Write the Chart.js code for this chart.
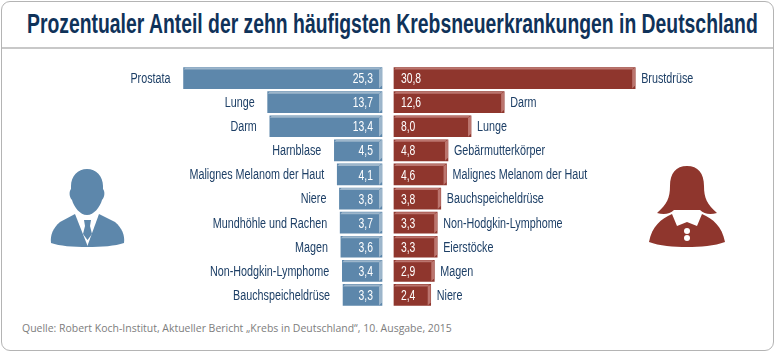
<!DOCTYPE html>
<html>
<head>
<meta charset="utf-8">
<script src="https://cdn.jsdelivr.net/npm/chart.js@4"></script>
<style>
  html, body { margin: 0; padding: 0; background: #fff; }
  #wrap { position: relative; width: 775px; height: 353px; overflow: hidden; }
  #frame { position: absolute; left: 1px; top: 1px; width: 771px; height: 348px; border: 1.5px solid #b4b4b4; border-radius: 9px; }
  #rule { position: absolute; left: 2px; top: 46.5px; width: 771px; height: 2px; background: #c8c8c8; }
  #title { position: absolute; left: 27px; top: 9px; font: 700 27px "Liberation Sans"; color: #0f3259; white-space: nowrap; transform-origin: 0 0; transform: scaleX(0.717); }
  #source { position: absolute; left: 22px; top: 320px; font: 11.5px "Open Sans", sans-serif; color: #7d7d7d; white-space: nowrap; transform-origin: 0 0; transform: scaleX(0.91); }
  #chart { position: absolute; left: 0; top: 0; }
  svg { position: absolute; }
</style>
</head>
<body>
<div id="wrap">
  <div id="frame"></div>
  <div id="rule"></div>
  <div id="title">Prozentualer Anteil der zehn häufigsten Krebsneuerkrankungen in Deutschland</div>
  <div id="source">Quelle: Robert Koch-Institut, Aktueller Bericht „Krebs in Deutschland“, 10. Ausgabe, 2015</div>
  <canvas id="chart" width="775" height="353"></canvas>
  <svg style="left:0;top:150px" width="200" height="110" viewBox="0 0 200 110">
    <path fill="#5d87ab" d="M87 19 C96 19 103 26 103 36 L103 39 C105 41 105 47 102 50 C100 57 94 65 87 65 C80 65 74 57 72 50 C69 47 69 41 71 39 L71 36 C71 26 78 19 87 19 Z"/>
    <path fill="#5d87ab" d="M75 64 L88 97 C72 97 60 96 51 93 C50 85 53 78 60 72 Z"/>
    <path fill="#5d87ab" d="M99 64 L87 97 C102 97 115 96 124 93 C125 85 122 78 115 72 Z"/>
    <path fill="#5d87ab" d="M84 70 L91 70 L90 76 L92 84 L87.500 90 L83 84 L85 76 Z"/>
  </svg>
  <svg style="left:600px;top:150px" width="175" height="110" viewBox="0 0 175 110">
    <path fill="#8f362d" d="M87 16 C98 16 104 23 104 36 C104 48 107 54 117 63 C110 65 104 64 100 60 L74 60 C70 64 64 65 57 63 C67 54 70 48 70 36 C70 23 76 16 87 16 Z"/>
    <path fill="#8f362d" d="M72 64 L77 76 L87 72 L97 76 L102 64 C113 69 122 76 125 92 C115 96 100 97 87 97 C74 97 59 96 49 92 C52 76 61 69 72 64 Z"/>
    <circle cx="87" cy="81" r="3" fill="#fff"/>
    <circle cx="87" cy="88" r="3" fill="#fff"/>
  </svg>
</div>
<script>
const maleLabels = ["Prostata", "Lunge", "Darm", "Harnblase", "Malignes Melanom der Haut", "Niere", "Mundhöhle und Rachen", "Magen", "Non-Hodgkin-Lymphome", "Bauchspeicheldrüse"];
const maleValues = [25.3, 13.7, 13.4, 4.5, 4.1, 3.8, 3.7, 3.6, 3.4, 3.3];
const femaleLabels = ["Brustdrüse", "Darm", "Lunge", "Gebärmutterkörper", "Malignes Melanom der Haut", "Bauchspeicheldrüse", "Non-Hodgkin-Lymphome", "Eierstöcke", "Magen", "Niere"];
const femaleValues = [30.8, 12.6, 8.0, 4.8, 4.6, 3.8, 3.3, 3.3, 2.9, 2.4];

const labelFont = '14px "Liberation Sans"';
const valueFont = '15px "Liberation Sans"';

function fmt(v) {
  return v.toFixed(1).replace(".", ",");
}

// no narrow font installed, so squeeze the text horizontally
function narrowText(c, text, x, y, sx) {
  c.save();
  c.translate(x, y);
  c.scale(sx, 1);
  c.fillText(text, 0, 0);
  c.restore();
}

// lighter edge on top/right side of every bar, names and values next to it
const barDecor = {
  id: "barDecor",
  afterDatasetsDraw(chart) {
    const c = chart.ctx;
    const sets = [
      { meta: chart.getDatasetMeta(0), vals: maleValues, names: maleLabels, edge: "#9db6cb", left: true },
      { meta: chart.getDatasetMeta(1), vals: femaleValues, names: femaleLabels, edge: "#bb756e", left: false },
    ];
    c.save();
    c.textBaseline = "middle";
    sets.forEach((s) => {
      s.meta.data.forEach((bar, i) => {
        const x0 = Math.min(bar.x, bar.base);
        const x1 = Math.max(bar.x, bar.base);
        const top = bar.y - bar.height / 2;
        const bot = bar.y + bar.height / 2;
        c.fillStyle = s.edge;
        c.beginPath();
        c.moveTo(x0 + 2, top);
        c.lineTo(x1 - 1, top);
        c.lineTo(x1 - 3, top + 2);
        c.lineTo(x0, top + 2);
        c.closePath();
        c.fill();
        c.beginPath();
        c.moveTo(x1 - 3, top + 2);
        c.lineTo(x1, top);
        c.lineTo(x1, bot - 3);
        c.lineTo(x1 - 3, bot);
        c.closePath();
        c.fill();

        c.textAlign = s.left ? "right" : "left";
        c.fillStyle = "#ffffff";
        c.font = valueFont;
        narrowText(c, fmt(s.vals[i]), s.left ? x1 - 9 : x0 + 7, bar.y + 1, 0.69);

        c.fillStyle = "#1d3f66";
        c.font = labelFont;
        narrowText(c, s.names[i], s.left ? x0 - 13 : x1 + 6, bar.y + 1, 0.77);
      });
    });
    c.restore();
  },
};

new Chart(document.getElementById("chart"), {
  type: "bar",
  data: {
    labels: maleLabels,
    datasets: [
      { data: maleValues, xAxisID: "xL", base: -2.07, backgroundColor: "#5d87ab", barThickness: 21, grouped: false },
      { data: femaleValues, xAxisID: "xR", base: -2.7, backgroundColor: "#8f362d", barThickness: 21, grouped: false },
    ],
  },
  options: {
    indexAxis: "y",
    responsive: false,
    animation: false,
    layout: { padding: { top: 66, bottom: 46 } },
    plugins: { legend: { display: false }, tooltip: { enabled: false } },
    scales: {
      y: { display: false },
      xL: { display: false, reverse: true, min: -56.28, max: 50.62 },
      xR: { display: false, min: -57.42, max: 50.22 },
    },
  },
  plugins: [barDecor],
});
</script>
</body>
</html>
